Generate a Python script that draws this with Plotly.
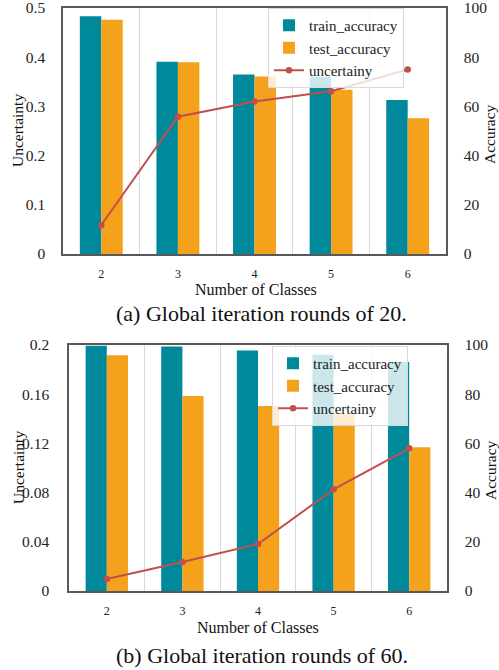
import plotly.graph_objects as go

W, H = 499, 670

categories = ["2", "3", "4", "5", "6"]

# (a) Global iteration rounds of 20
train_acc_a = [96.6, 78.2, 73.0, 72.1, 62.6]
test_acc_a = [95.2, 77.9, 72.2, 66.8, 55.2]
uncert_a = [0.059, 0.279, 0.310, 0.331, 0.375]

# (b) Global iteration rounds of 60
train_acc_b = [99.7, 99.4, 97.8, 96.0, 93.1]
test_acc_b = [95.8, 79.3, 75.2, 71.8, 58.4]
uncert_b = [0.0098, 0.0236, 0.0382, 0.0827, 0.116]

left_ticks_a = [0, 0.1, 0.2, 0.3, 0.4, 0.5]
left_ticks_b = [0, 0.04, 0.08, 0.12, 0.16, 0.2]
right_ticks = [0, 20, 40, 60, 80, 100]

TEAL = "#00889B"
ORANGE = "#F4A11C"
RED = "#C0504D"
FRAME = "#595959"
GRID = "#D9D9D9"
FONT = "Liberation Serif"


def px_x(p):
    return p / W


def px_y(p):
    return 1 - p / H


fig = go.Figure()

# top subplot traces
fig.add_trace(go.Bar(x=categories, y=train_acc_a, name="train_accuracy", marker_color=TEAL,
                     marker_line_width=0, xaxis="x", yaxis="y", legend="legend"))
fig.add_trace(go.Bar(x=categories, y=test_acc_a, name="test_accuracy", marker_color=ORANGE,
                     marker_line_width=0, xaxis="x", yaxis="y", legend="legend"))
fig.add_trace(go.Scatter(x=categories, y=uncert_a, name="uncertainy", mode="lines+markers",
                         line=dict(color=RED, width=2), marker=dict(color=RED, size=6.5),
                         xaxis="x", yaxis="y2", legend="legend"))

# bottom subplot traces
fig.add_trace(go.Bar(x=categories, y=train_acc_b, name="train_accuracy", marker_color=TEAL,
                     marker_line_width=0, xaxis="x2", yaxis="y3", legend="legend2"))
fig.add_trace(go.Bar(x=categories, y=test_acc_b, name="test_accuracy", marker_color=ORANGE,
                     marker_line_width=0, xaxis="x2", yaxis="y3", legend="legend2"))
fig.add_trace(go.Scatter(x=categories, y=uncert_b, name="uncertainy", mode="lines+markers",
                         line=dict(color=RED, width=2), marker=dict(color=RED, size=6.5),
                         xaxis="x2", yaxis="y4", legend="legend2"))

xaxis_common = dict(
    type="category", tickson="boundaries", showgrid=True, gridcolor=GRID, gridwidth=1,
    showline=True, linecolor=FRAME, linewidth=1.5, mirror=True, ticks="",
    tickfont=dict(family=FONT, size=12, color="#222"), ticklabelstandoff=8,
    range=[-0.5, 4.5], zeroline=False, fixedrange=True, automargin=False,
)
right_axis_common = dict(
    side="right", range=[0, 100], tickvals=right_ticks, showgrid=False, zeroline=False,
    showline=True, linecolor=FRAME, linewidth=1.5, ticks="",
    tickfont=dict(family=FONT, size=15.5, color="#222"), ticklabelstandoff=13,
    automargin=False, ticklabeloverflow="allow",
)
left_axis_common = dict(
    side="left", showgrid=False, zeroline=False,
    showline=True, linecolor=FRAME, linewidth=1.5, ticks="",
    tickfont=dict(family=FONT, size=15.5, color="#222"),
    automargin=False, ticklabeloverflow="allow",
)

fig.update_layout(
    template="none",
    width=W, height=H,
    margin=dict(l=0, r=0, t=0, b=0, autoexpand=False),
    paper_bgcolor="white", plot_bgcolor="white",
    barmode="group", bargap=0.44, bargroupgap=0,
    font=dict(family=FONT, color="#222"),
    xaxis=dict(domain=[px_x(63), px_x(446)], anchor="y", **xaxis_common),
    yaxis=dict(domain=[px_y(254), px_y(8)], anchor="x", **right_axis_common),
    yaxis2=dict(overlaying="y", anchor="x", range=[0, 0.5], tickvals=left_ticks_a,
                ticktext=[f"{v:g}" for v in left_ticks_a], ticklabelstandoff=13,
                **left_axis_common),
    xaxis2=dict(domain=[px_x(69), px_x(447)], anchor="y3", **xaxis_common),
    yaxis3=dict(domain=[px_y(591), px_y(345)], anchor="x2", **right_axis_common),
    yaxis4=dict(overlaying="y3", anchor="x2", range=[0, 0.2], tickvals=left_ticks_b,
                ticktext=[f"{v:g}" for v in left_ticks_b], ticklabelstandoff=15,
                **left_axis_common),
    legend=dict(x=px_x(268), y=px_y(8), xanchor="left", yanchor="top",
                bgcolor="rgba(255,255,255,0.8)", bordercolor=GRID, borderwidth=1,
                font=dict(family=FONT, size=15, color="#222"), itemwidth=30,
                tracegroupgap=0, traceorder="normal"),
    legend2=dict(x=px_x(272), y=px_y(346), xanchor="left", yanchor="top",
                 bgcolor="rgba(255,255,255,0.8)", bordercolor=GRID, borderwidth=1,
                 font=dict(family=FONT, size=15, color="#222"), itemwidth=30,
                 tracegroupgap=0, traceorder="normal"),
    showlegend=True,
)

ann = [
    dict(text="Uncertainty", x=px_x(18), y=px_y(131), textangle=-90, size=15.5),
    dict(text="Accuracy", x=px_x(490), y=px_y(134), textangle=-90, size=15.5),
    dict(text="Number of Classes", x=px_x(256), y=px_y(290), textangle=0, size=16),
    dict(text="(a) Global iteration rounds of 20.", x=px_x(261), y=px_y(313), textangle=0, size=22),
    dict(text="Uncertainty", x=px_x(18), y=px_y(468), textangle=-90, size=15.5),
    dict(text="Accuracy", x=px_x(490), y=px_y(470), textangle=-90, size=15.5),
    dict(text="Number of Classes", x=px_x(258), y=px_y(627), textangle=0, size=16),
    dict(text="(b) Global iteration rounds of 60.", x=px_x(262), y=px_y(655), textangle=0, size=22),
]
for a in ann:
    fig.add_annotation(text=a["text"], x=a["x"], y=a["y"], xref="paper", yref="paper",
                       xanchor="center", yanchor="middle", showarrow=False,
                       textangle=a["textangle"],
                       font=dict(family=FONT, size=a["size"], color="#111"))

fig.write_html(
    "out.html",
    config={"displayModeBar": False},
    post_script="document.body.style.margin='0';document.body.style.padding='0';",
)
